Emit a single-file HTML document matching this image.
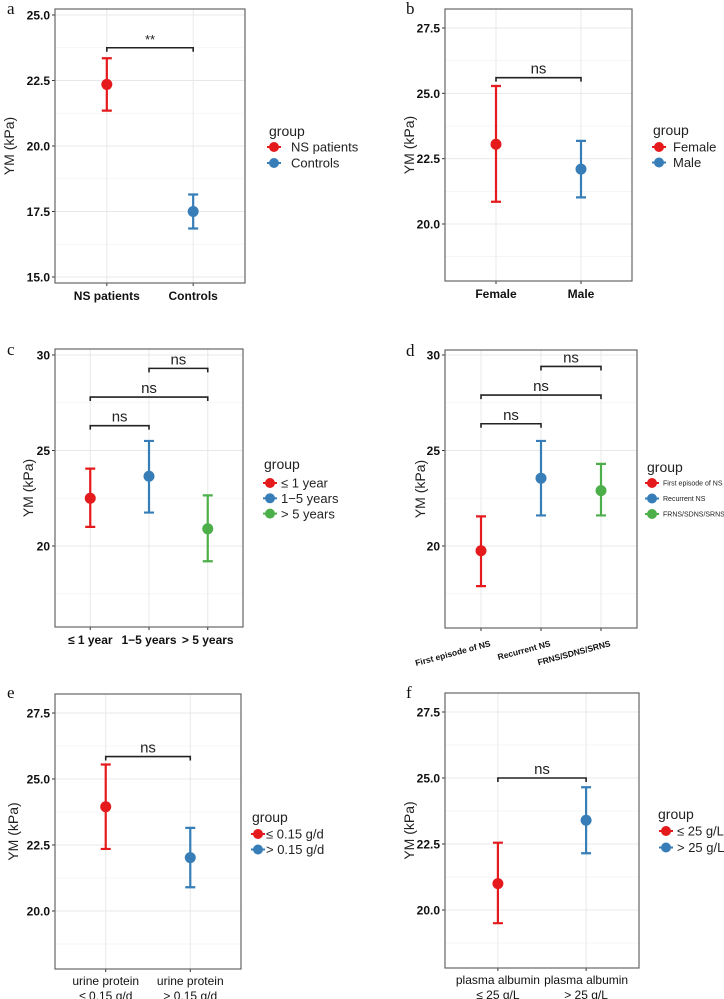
<!DOCTYPE html>
<html><head><meta charset="utf-8">
<style>
html,body{margin:0;padding:0;background:#fff;}
svg{display:block;font-family:"Liberation Sans",Arial,sans-serif;}
</style></head>
<body>
<svg id="fig" width="724" height="999" viewBox="0 0 724 999" xmlns="http://www.w3.org/2000/svg"></svg>
<script>
const RED="#E41A1C",BLUE="#377EB8",GREEN="#4DAF4A";
// Panel a
const aCats=["NS patients","Controls"];
const aMean=[22.35,17.5];
const aLow=[21.35,16.85];
const aHigh=[23.35,18.15];
const aTicks=[15.0,17.5,20.0,22.5,25.0];
const aTickLabels=["15.0","17.5","20.0","22.5","25.0"];
// Panel b
const bCats=["Female","Male"];
const bMean=[23.05,22.1];
const bLow=[20.85,21.02];
const bHigh=[25.28,23.18];
const bTicks=[20.0,22.5,25.0,27.5];
const bTickLabels=["20.0","22.5","25.0","27.5"];
// Panel c
const cCats=["≤ 1 year","1−5 years","> 5 years"];
const cMean=[22.5,23.65,20.9];
const cLow=[21.0,21.75,19.2];
const cHigh=[24.05,25.5,22.65];
const cTicks=[20,25,30];
const cTickLabels=["20","25","30"];
// Panel d
const dCats=["First episode of NS","Recurrent NS","FRNS/SDNS/SRNS"];
const dMean=[19.75,23.55,22.9];
const dLow=[17.9,21.6,21.6];
const dHigh=[21.55,25.5,24.3];
const dTicks=[20,25,30];
const dTickLabels=["20","25","30"];
// Panel e
const eCats=[["urine protein","≤ 0.15 g/d"],["urine protein","> 0.15 g/d"]];
const eLegend=["≤ 0.15 g/d","> 0.15 g/d"];
const eMean=[23.95,22.02];
const eLow=[22.35,20.9];
const eHigh=[25.55,23.15];
const eTicks=[20.0,22.5,25.0,27.5];
const eTickLabels=["20.0","22.5","25.0","27.5"];
// Panel f
const fCats=[["plasma albumin","≤ 25 g/L"],["plasma albumin","> 25 g/L"]];
const fLegend=["≤ 25 g/L","> 25 g/L"];
const fMean=[21.0,23.4];
const fLow=[19.5,22.15];
const fHigh=[22.55,24.65];
const fTicks=[20.0,22.5,25.0,27.5];
const fTickLabels=["20.0","22.5","25.0","27.5"];

const svg=document.getElementById('fig');
const NS="http://www.w3.org/2000/svg";
function mk(tag,attrs,parent){const e=document.createElementNS(NS,tag);for(const k in attrs)e.setAttribute(k,attrs[k]);(parent||svg).appendChild(e);return e;}

function panel(o){
  const g=mk('g',{});
  
  
  const b=o.box;
  const span=o.ty1-o.ty0, vspan=o.tv1-o.tv0;
  const y=v=>o.ty0+(v-o.tv0)*span/vspan;
  const n=o.cats.length;
  const unit=(b.r-b.l)/(n-1+1.2);
  const x=i=>b.l+unit*(0.6+i);
  const vTop=o.tv0+(b.t-o.ty0)*vspan/span, vBot=o.tv0+(b.b-o.ty0)*vspan/span;
  const bg=mk('rect',{x:b.l,y:b.t,width:b.r-b.l,height:b.b-b.t,fill:'#fff'},g);
  
  
  const ts=o.ticks, d=ts[1]-ts[0];
  for(let v=ts[0]-d/2; v<=vTop; v+=d){ if(v<vBot) continue;
    const l=mk('line',{x1:b.l,x2:b.r,y1:y(v),y2:y(v),stroke:'#f3f3f3','stroke-width':0.8},g);
    
    
  }
  ts.forEach((v,i)=>{
    const l=mk('line',{x1:b.l,x2:b.r,y1:y(v),y2:y(v),stroke:'#e8e8e8','stroke-width':1},g);
    
    
    mk('line',{x1:b.l-3,x2:b.l,y1:y(v),y2:y(v),stroke:'#333','stroke-width':1},g);
    const t=mk('text',{x:b.l-5,y:y(v)+4.5,'text-anchor':'end','font-size':12,'font-weight':'bold',fill:'#111'},g);
    t.textContent=o.tickLabels[i];
    
    
  });
  for(let i=0;i<n;i++){
    const l=mk('line',{x1:x(i),x2:x(i),y1:b.t,y2:b.b,stroke:'#e8e8e8','stroke-width':1},g);
    
    
    mk('line',{x1:x(i),x2:x(i),y1:b.b,y2:b.b+3,stroke:'#333','stroke-width':1},g);
  }
  const br=mk('rect',{x:b.l,y:b.t,width:b.r-b.l,height:b.b-b.t,fill:'none',stroke:'#666','stroke-width':1.2},g);
  
  
  o.brackets.forEach(bk=>{
    const yy=y(bk[2]);
    const p=mk('path',{d:`M${x(bk[0])},${yy+4}V${yy}H${x(bk[1])}V${yy+4}`,fill:'none',stroke:'#222','stroke-width':1.6},g);
    
    
    const t=mk('text',{x:(x(bk[0])+x(bk[1]))/2,y:yy-4,'text-anchor':'middle','font-size':bk[3]=='**'?13:15,fill:'#222'},g);
    t.textContent=bk[3];
    
    
  });
  for(let i=0;i<n;i++){
    const c=o.colors[i];
    const e=mk('path',{d:`M${x(i)-5},${y(o.high[i])}H${x(i)+5}M${x(i)},${y(o.high[i])}V${y(o.low[i])}M${x(i)-5},${y(o.low[i])}H${x(i)+5}`,stroke:c,'stroke-width':2.2,fill:'none'},g);
    
    
    const p=mk('circle',{cx:x(i),cy:y(o.mean[i]),r:5.5,fill:c},g);
    
    
  }
  for(let i=0;i<n;i++){
    const lab=o.cats[i];
    let t;
    if(o.rot){
      t=mk('text',{x:x(i)+10,y:b.b+18,'text-anchor':'end','font-size':8.5,'font-weight':'bold',fill:'#111',transform:`rotate(-15 ${x(i)+10} ${b.b+18})`},g);
      t.textContent=lab;
    } else if(Array.isArray(lab)){
      t=mk('text',{x:x(i),y:b.b+16,'text-anchor':'middle','font-size':12,fill:'#111'},g);
      lab.forEach((s,k)=>{const ts2=mk('tspan',{x:x(i),dy:k?15:0},t);ts2.textContent=s;});
    } else {
      t=mk('text',{x:x(i),y:b.b+17,'text-anchor':'middle','font-size':12,'font-weight':'bold',fill:'#111'},g);
      t.textContent=lab;
    }
    
    
  }
  const yt=mk('text',{x:o.ylx,y:(b.t+b.b)/2,'text-anchor':'middle','font-size':14,fill:'#222',transform:`rotate(-90 ${o.ylx} ${(b.t+b.b)/2})`},g);
  yt.textContent='YM (kPa)';
  
  
  const pl=mk('text',{x:o.letter[0],y:o.letter[1],'font-size':17,'font-family':'"Liberation Serif",serif',fill:'#111'},g);
  pl.textContent=o.id;
  
  
  const L=o.legend;
  const lt=mk('text',{x:L.x,y:L.y,'font-size':14,fill:'#222'},g);
  lt.textContent='group';
  
  
  const labels=o.legendLabels||o.cats;
  for(let i=0;i<n;i++){
    const yy=L.y0+i*L.dy;
    const le=mk('g',{},g);
    
    
    mk('line',{x1:L.cx-7,x2:L.cx+7,y1:yy,y2:yy,stroke:o.colors[i],'stroke-width':2},le);
    mk('circle',{cx:L.cx,cy:yy,r:5,fill:o.colors[i]},le);
    const t=mk('text',{x:L.tx,y:yy+(L.fs*0.36),'font-size':L.fs,fill:'#222'},le);
    t.textContent=labels[i];
  }
}

panel({id:'a',box:{l:55,r:245,t:9,b:283},ty0:277,tv0:15,ty1:15,tv1:25,ticks:aTicks,tickLabels:aTickLabels,
  cats:aCats,mean:aMean,low:aLow,high:aHigh,colors:[RED,BLUE],brackets:[[0,1,23.75,'**']],ylx:14,letter:[7,14],
  legend:{x:269,y:136,y0:147,dy:16,cx:274,tx:291,fs:13}});
panel({id:'b',box:{l:445,r:632,t:9,b:281},ty0:224,tv0:20,ty1:28,tv1:27.5,ticks:bTicks,tickLabels:bTickLabels,
  cats:bCats,mean:bMean,low:bLow,high:bHigh,colors:[RED,BLUE],brackets:[[0,1,25.6,'ns']],ylx:414,letter:[406,14],
  legend:{x:653,y:135,y0:147,dy:15.5,cx:659,tx:673,fs:13}});
panel({id:'c',box:{l:55,r:243,t:349,b:627},ty0:546,tv0:20,ty1:355,tv1:30,ticks:cTicks,tickLabels:cTickLabels,
  cats:cCats,mean:cMean,low:cLow,high:cHigh,colors:[RED,BLUE,GREEN],brackets:[[0,1,26.3,'ns'],[0,2,27.8,'ns'],[1,2,29.3,'ns']],ylx:33,letter:[7,355],
  legend:{x:264,y:469,y0:483,dy:15.3,cx:270,tx:281,fs:13}});
panel({id:'d',box:{l:445,r:637,t:350,b:628},ty0:546,tv0:20,ty1:355,tv1:30,ticks:dTicks,tickLabels:dTickLabels,
  cats:dCats,mean:dMean,low:dLow,high:dHigh,colors:[RED,BLUE,GREEN],brackets:[[0,1,26.4,'ns'],[0,2,27.9,'ns'],[1,2,29.4,'ns']],ylx:425,letter:[406,356],rot:true,
  legend:{x:647,y:472,y0:483,dy:15.5,cx:652,tx:663,fs:7}});
panel({id:'e',box:{l:55,r:241,t:694,b:969},ty0:911,tv0:20,ty1:713,tv1:27.5,ticks:eTicks,tickLabels:eTickLabels,
  cats:eCats,legendLabels:eLegend,mean:eMean,low:eLow,high:eHigh,colors:[RED,BLUE],brackets:[[0,1,25.85,'ns']],ylx:18,letter:[7,698],
  legend:{x:252,y:822,y0:834,dy:15.5,cx:258,tx:266,fs:13}});
panel({id:'f',box:{l:445,r:639,t:693,b:968},ty0:910,tv0:20,ty1:712,tv1:27.5,ticks:fTicks,tickLabels:fTickLabels,
  cats:fCats,legendLabels:fLegend,mean:fMean,low:fLow,high:fHigh,colors:[RED,BLUE],brackets:[[0,1,25.0,'ns']],ylx:414,letter:[406,698],
  legend:{x:658,y:819,y0:831,dy:16.5,cx:666,tx:677,fs:13}});
</script>
</body></html>
